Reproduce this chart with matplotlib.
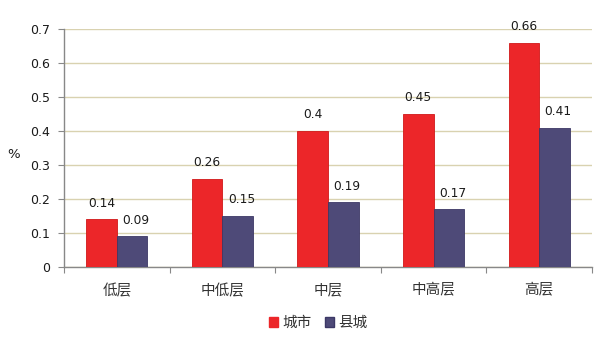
import matplotlib
matplotlib.use("Agg")
import matplotlib.pyplot as plt
import numpy as np
from matplotlib.patches import Patch

plt.rcParams['font.family'] = ['DejaVu Sans', 'Noto Sans CJK SC']

categories = ['低层', '中低层', '中层', '中高层', '高层']
city = [0.14, 0.26, 0.40, 0.45, 0.66]
county = [0.09, 0.15, 0.19, 0.17, 0.41]
series_names = ['城市', '县城']
city_labels = ['0.14', '0.26', '0.4', '0.45', '0.66']
county_labels = ['0.09', '0.15', '0.19', '0.17', '0.41']

red = '#ec2629'
navy = '#4e4a78'
cjk = ['Noto Sans CJK SC', 'DejaVu Sans']

fig = plt.figure(figsize=(6.0, 3.39), dpi=100)
ax = fig.add_axes([0.1067, 0.2124, 0.88, 0.7021])

x = np.arange(len(categories))
w = 0.29
ax.bar(x - w / 2, city, w, color=red, edgecolor='#d01818', linewidth=0.6, zorder=3)
ax.bar(x + w / 2, county, w, color=navy, edgecolor='#3c3866', linewidth=0.6, zorder=3)

for xi, v, t in zip(x, city, city_labels):
    ax.text(xi - w / 2, v + 0.028, t, ha='center', va='bottom', fontsize=8.8, color='#1a1a1a')
for xi, v, t in zip(x, county, county_labels):
    ax.text(xi + w / 2 + 0.035, v + 0.028, t, ha='center', va='bottom', fontsize=8.8, color='#1a1a1a')

ax.set_xlim(-0.5, len(categories) - 0.5)
ax.set_ylim(0, 0.7)
ax.set_yticks(np.arange(0, 0.71, 0.1))
ax.set_yticklabels(['0', '0.1', '0.2', '0.3', '0.4', '0.5', '0.6', '0.7'], fontsize=9, color='#1a1a1a')
ax.yaxis.grid(True, color='#d9d2b0', linewidth=1.0, zorder=0)
ax.set_axisbelow(True)

ax.set_xticks(np.arange(-0.5, len(categories), 1.0))
ax.set_xticklabels([])
ax.set_xticks(x, minor=True)
ax.set_xticklabels(categories, minor=True, fontsize=10.5, family=cjk, color='#333333')
ax.tick_params(axis='x', which='minor', length=0, pad=12)
ax.tick_params(axis='x', which='major', length=4, color='#888888', direction='out')
ax.tick_params(axis='y', length=4, color='#888888', direction='out', pad=6)

for s in ['top', 'right']:
    ax.spines[s].set_visible(False)
for s in ['left', 'bottom']:
    ax.spines[s].set_color('#888888')
    ax.spines[s].set_linewidth(1.0)

fig.text(0.022, 0.545, '%', fontsize=9.5, color='#1a1a1a', ha='center', va='center')

handles = [Patch(facecolor=red, edgecolor=red), Patch(facecolor=navy, edgecolor='#3c3866')]
leg = fig.legend(handles, series_names, loc='center', bbox_to_anchor=(0.53, 0.047), ncol=2,
                 frameon=False, prop={'family': cjk, 'size': 10.5}, handlelength=0.62, handleheight=0.62,
                 handletextpad=0.3, columnspacing=0.9)
for t in leg.get_texts():
    t.set_color('#333333')

fig.savefig('out.png', dpi=100)
